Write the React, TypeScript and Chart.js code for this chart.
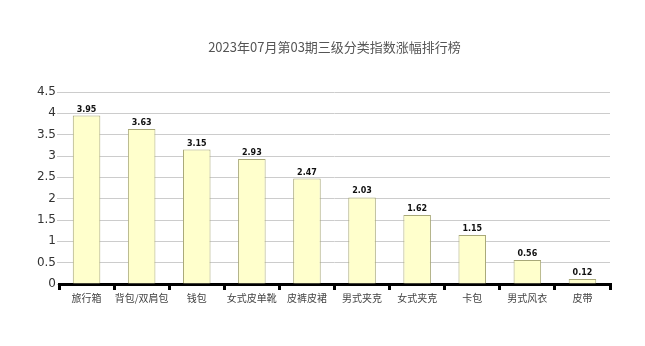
import React, { useEffect, useRef } from "react";
import { Chart, registerables } from "chart.js";

Chart.register(...registerables);

const TITLE = "2023年07月第03期三级分类指数涨幅排行榜";
const categories = ["旅行箱", "背包/双肩包", "钱包", "女式皮单靴", "皮裤皮裙", "男式夹克", "女式夹克", "卡包", "男式风衣", "皮带"];
const values = [3.95, 3.63, 3.15, 2.93, 2.47, 2.03, 1.62, 1.15, 0.56, 0.12];
const yTicks = [0, 0.5, 1, 1.5, 2, 2.5, 3, 3.5, 4, 4.5];

const labelPlugin = {
  id: "valueLabels",
  afterDatasetsDraw(chart: any) {
    const ctx = chart.ctx;
    const meta = chart.getDatasetMeta(0);
    ctx.save();
    ctx.font = "bold 8px 'DejaVu Sans', sans-serif";
    ctx.fillStyle = "#111";
    ctx.textAlign = "center";
    ctx.textBaseline = "bottom";
    meta.data.forEach((el: any, i: number) => {
      ctx.fillText(values[i].toFixed(2), el.x, el.y - 2);
    });
    ctx.restore();
  },
};

const titlePlugin = {
  id: "customTitle",
  afterDraw(chart: any) {
    const ctx = chart.ctx;
    const { left, right } = chart.chartArea;
    ctx.save();
    ctx.font = "13px 'Noto Sans CJK SC', sans-serif";
    ctx.fillStyle = "#555";
    ctx.textAlign = "center";
    ctx.textBaseline = "middle";
    ctx.fillText(TITLE, (left + right) / 2, 47);
    ctx.restore();
  },
};

export default function App() {
  const ref = useRef<HTMLCanvasElement>(null);
  useEffect(() => {
    const chart = new Chart(ref.current as HTMLCanvasElement, {
      type: "bar",
      data: {
        labels: categories,
        datasets: [
          {
            data: values,
            backgroundColor: "#ffffcc",
            borderColor: "#a8a878",
            borderWidth: 1,
            barPercentage: 0.5,
            categoryPercentage: 1,
          },
        ],
      },
      options: {
        animation: false,
        responsive: true,
        maintainAspectRatio: false,
        layout: { padding: { top: 92, right: 35, left: 0, bottom: 0 } },
        plugins: { legend: { display: false }, tooltip: { enabled: false }, title: { display: false } },
        scales: {
          x: {
            offset: true,
            grid: {
              offset: true,
              drawOnChartArea: false,
              drawTicks: true,
              tickLength: 6,
              color: "#000",
              lineWidth: 3,
            },
            border: { display: true, color: "#000", width: 3 },
            ticks: {
              font: { family: "'Noto Sans CJK SC', serif", size: 10 },
              color: "#444",
              padding: 2,
              maxRotation: 0,
              autoSkip: false,
            },
            afterFit(scale: any) {
              scale.height = 62;
            },
          },
          y: {
            min: 0,
            max: 4.5,
            afterBuildTicks(scale: any) {
              scale.ticks = yTicks.map((v) => ({ value: v }));
            },
            grid: { color: "#cccccc", lineWidth: 1, tickLength: 2 },
            border: { display: false },
            ticks: {
              font: { family: "'DejaVu Sans', sans-serif", size: 12 },
              color: "#333",
              padding: 1,
              callback: (v: any) => String(v),
            },
            afterFit(scale: any) {
              scale.width = 59;
            },
          },
        },
      },
      plugins: [labelPlugin, titlePlugin],
    } as any);
    return () => chart.destroy();
  }, []);
  return (
    <div style={{ position: "fixed", left: 0, top: 0, width: 645, height: 346, background: "#fff" }}>
      <canvas ref={ref} />
    </div>
  );
}
